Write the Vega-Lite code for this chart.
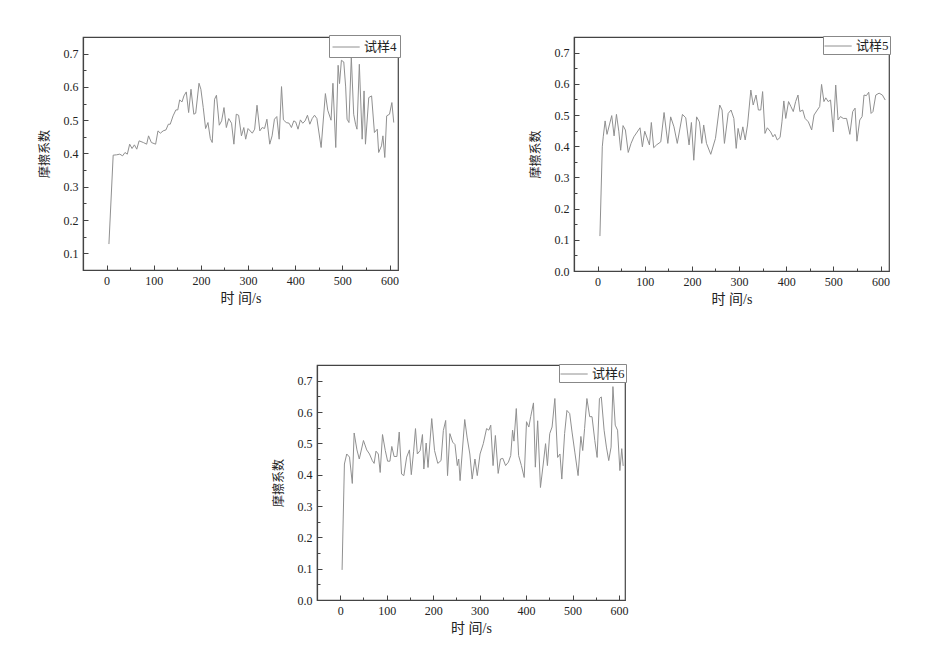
{
  "$schema": "https://vega.github.io/schema/vega-lite/v6.json",
  "background": "white",
  "padding": {"left": 37, "top": 33, "right": 5, "bottom": 5},
  "config": {
    "view": {"stroke": "#444", "strokeWidth": 1.2},
    "font": "Liberation Serif, Noto Sans CJK SC",
    "axis": {"grid": false, "domainColor": "#444", "domainWidth": 1.2, "tickColor": "#444", "labelFont": "Liberation Serif", "labelFontSize": 12, "labelColor": "#222", "titleFont": "Liberation Serif, Noto Sans CJK SC", "titleFontSize": 13, "titleFontWeight": "normal", "titleColor": "#222", "labelPadding": 10, "labelFlush": false, "labelOverlap": false},
    "axisX": {"titlePadding": 3, "titleFontSize": 14},
    "axisY": {"titlePadding": 12, "titleFontSize": 12},
    "legend": {"orient": "top-right", "offset": -2, "padding": 3, "strokeColor": "#888", "fillColor": "white", "symbolType": "M-1,0H2.2", "symbolSize": 289, "symbolStrokeWidth": 1, "labelOffset": 14, "labelFont": "Liberation Serif, Noto Sans CJK SC", "labelFontSize": 13, "labelColor": "#222"},
    "line": {"strokeWidth": 1}
  },
  "datasets": {
    "s4": [
      {"t":5,"v":0.128,"s":"试样4"},{"t":14,"v":0.395,"s":"试样4"},{"t":21,"v":0.396,"s":"试样4"},{"t":28,"v":0.398,"s":"试样4"},{"t":34,"v":0.393,"s":"试样4"},{"t":39,"v":0.403,"s":"试样4"},{"t":44,"v":0.398,"s":"试样4"},{"t":49,"v":0.428,"s":"试样4"},{"t":54,"v":0.415,"s":"试样4"},{"t":59,"v":0.426,"s":"试样4"},{"t":64,"v":0.413,"s":"试样4"},{"t":69,"v":0.438,"s":"试样4"},{"t":78,"v":0.433,"s":"试样4"},{"t":85,"v":0.428,"s":"试样4"},{"t":89,"v":0.453,"s":"试样4"},{"t":95,"v":0.433,"s":"试样4"},{"t":104,"v":0.428,"s":"试样4"},{"t":109,"v":0.468,"s":"试样4"},{"t":114,"v":0.461,"s":"试样4"},{"t":120,"v":0.468,"s":"试样4"},{"t":126,"v":0.471,"s":"试样4"},{"t":131,"v":0.488,"s":"试样4"},{"t":135,"v":0.488,"s":"试样4"},{"t":141,"v":0.513,"s":"试样4"},{"t":147,"v":0.531,"s":"试样4"},{"t":151,"v":0.531,"s":"试样4"},{"t":155,"v":0.561,"s":"试样4"},{"t":160,"v":0.555,"s":"试样4"},{"t":164,"v":0.573,"s":"试样4"},{"t":169,"v":0.585,"s":"试样4"},{"t":174,"v":0.523,"s":"试样4"},{"t":179,"v":0.593,"s":"试样4"},{"t":185,"v":0.518,"s":"试样4"},{"t":189,"v":0.521,"s":"试样4"},{"t":196,"v":0.611,"s":"试样4"},{"t":200,"v":0.593,"s":"试样4"},{"t":205,"v":0.538,"s":"试样4"},{"t":210,"v":0.475,"s":"试样4"},{"t":215,"v":0.493,"s":"试样4"},{"t":220,"v":0.445,"s":"试样4"},{"t":224,"v":0.433,"s":"试样4"},{"t":229,"v":0.563,"s":"试样4"},{"t":233,"v":0.575,"s":"试样4"},{"t":239,"v":0.485,"s":"试样4"},{"t":244,"v":0.498,"s":"试样4"},{"t":249,"v":0.538,"s":"试样4"},{"t":254,"v":0.478,"s":"试样4"},{"t":259,"v":0.505,"s":"试样4"},{"t":265,"v":0.491,"s":"试样4"},{"t":270,"v":0.428,"s":"试样4"},{"t":275,"v":0.518,"s":"试样4"},{"t":280,"v":0.515,"s":"试样4"},{"t":286,"v":0.453,"s":"试样4"},{"t":291,"v":0.478,"s":"试样4"},{"t":295,"v":0.443,"s":"试样4"},{"t":300,"v":0.475,"s":"试样4"},{"t":309,"v":0.461,"s":"试样4"},{"t":314,"v":0.473,"s":"试样4"},{"t":319,"v":0.545,"s":"试样4"},{"t":325,"v":0.468,"s":"试样4"},{"t":330,"v":0.478,"s":"试样4"},{"t":335,"v":0.475,"s":"试样4"},{"t":340,"v":0.503,"s":"试样4"},{"t":346,"v":0.428,"s":"试样4"},{"t":351,"v":0.453,"s":"试样4"},{"t":356,"v":0.503,"s":"试样4"},{"t":361,"v":0.511,"s":"试样4"},{"t":366,"v":0.443,"s":"试样4"},{"t":371,"v":0.601,"s":"试样4"},{"t":375,"v":0.501,"s":"试样4"},{"t":381,"v":0.493,"s":"试样4"},{"t":387,"v":0.491,"s":"试样4"},{"t":392,"v":0.478,"s":"试样4"},{"t":397,"v":0.498,"s":"试样4"},{"t":401,"v":0.495,"s":"试样4"},{"t":406,"v":0.473,"s":"试样4"},{"t":411,"v":0.501,"s":"试样4"},{"t":416,"v":0.491,"s":"试样4"},{"t":421,"v":0.498,"s":"试样4"},{"t":426,"v":0.515,"s":"试样4"},{"t":431,"v":0.488,"s":"试样4"},{"t":436,"v":0.505,"s":"试样4"},{"t":441,"v":0.515,"s":"试样4"},{"t":446,"v":0.505,"s":"试样4"},{"t":455,"v":0.418,"s":"试样4"},{"t":464,"v":0.58,"s":"试样4"},{"t":469,"v":0.53,"s":"试样4"},{"t":476,"v":0.5,"s":"试样4"},{"t":480,"v":0.611,"s":"试样4"},{"t":486,"v":0.418,"s":"试样4"},{"t":491,"v":0.665,"s":"试样4"},{"t":494,"v":0.61,"s":"试样4"},{"t":498,"v":0.68,"s":"试样4"},{"t":503,"v":0.675,"s":"试样4"},{"t":507,"v":0.6,"s":"试样4"},{"t":510,"v":0.503,"s":"试样4"},{"t":514,"v":0.493,"s":"试样4"},{"t":519,"v":0.69,"s":"试样4"},{"t":524,"v":0.518,"s":"试样4"},{"t":528,"v":0.488,"s":"试样4"},{"t":531,"v":0.473,"s":"试样4"},{"t":536,"v":0.668,"s":"试样4"},{"t":542,"v":0.443,"s":"试样4"},{"t":546,"v":0.588,"s":"试样4"},{"t":549,"v":0.428,"s":"试样4"},{"t":556,"v":0.568,"s":"试样4"},{"t":562,"v":0.573,"s":"试样4"},{"t":568,"v":0.463,"s":"试样4"},{"t":574,"v":0.473,"s":"试样4"},{"t":577,"v":0.403,"s":"试样4"},{"t":583,"v":0.423,"s":"试样4"},{"t":586,"v":0.453,"s":"试样4"},{"t":590,"v":0.388,"s":"试样4"},{"t":594,"v":0.513,"s":"试样4"},{"t":600,"v":0.518,"s":"试样4"},{"t":605,"v":0.553,"s":"试样4"},{"t":609,"v":0.493,"s":"试样4"}
    ],
    "s5": [
      {"t":5,"v":0.112,"s":"试样5"},{"t":10,"v":0.398,"s":"试样5"},{"t":12,"v":0.43,"s":"试样5"},{"t":16,"v":0.481,"s":"试样5"},{"t":20,"v":0.438,"s":"试样5"},{"t":25,"v":0.468,"s":"试样5"},{"t":30,"v":0.498,"s":"试样5"},{"t":35,"v":0.433,"s":"试样5"},{"t":40,"v":0.502,"s":"试样5"},{"t":45,"v":0.448,"s":"试样5"},{"t":49,"v":0.387,"s":"试样5"},{"t":54,"v":0.466,"s":"试样5"},{"t":59,"v":0.452,"s":"试样5"},{"t":65,"v":0.38,"s":"试样5"},{"t":71,"v":0.409,"s":"试样5"},{"t":77,"v":0.43,"s":"试样5"},{"t":90,"v":0.459,"s":"试样5"},{"t":95,"v":0.398,"s":"试样5"},{"t":100,"v":0.448,"s":"试样5"},{"t":110,"v":0.404,"s":"试样5"},{"t":114,"v":0.476,"s":"试样5"},{"t":119,"v":0.395,"s":"试样5"},{"t":125,"v":0.404,"s":"试样5"},{"t":134,"v":0.414,"s":"试样5"},{"t":141,"v":0.508,"s":"试样5"},{"t":149,"v":0.409,"s":"试样5"},{"t":155,"v":0.494,"s":"试样5"},{"t":162,"v":0.462,"s":"试样5"},{"t":169,"v":0.409,"s":"试样5"},{"t":180,"v":0.502,"s":"试样5"},{"t":187,"v":0.491,"s":"试样5"},{"t":194,"v":0.404,"s":"试样5"},{"t":199,"v":0.476,"s":"试样5"},{"t":204,"v":0.355,"s":"试样5"},{"t":210,"v":0.494,"s":"试样5"},{"t":216,"v":0.478,"s":"试样5"},{"t":221,"v":0.409,"s":"试样5"},{"t":225,"v":0.468,"s":"试样5"},{"t":231,"v":0.409,"s":"试样5"},{"t":240,"v":0.374,"s":"试样5"},{"t":250,"v":0.425,"s":"试样5"},{"t":259,"v":0.532,"s":"试样5"},{"t":264,"v":0.516,"s":"试样5"},{"t":269,"v":0.409,"s":"试样5"},{"t":277,"v":0.505,"s":"试样5"},{"t":283,"v":0.516,"s":"试样5"},{"t":289,"v":0.489,"s":"试样5"},{"t":294,"v":0.393,"s":"试样5"},{"t":298,"v":0.457,"s":"试样5"},{"t":303,"v":0.42,"s":"试样5"},{"t":308,"v":0.462,"s":"试样5"},{"t":313,"v":0.42,"s":"试样5"},{"t":318,"v":0.468,"s":"试样5"},{"t":325,"v":0.58,"s":"试样5"},{"t":330,"v":0.532,"s":"试样5"},{"t":336,"v":0.564,"s":"试样5"},{"t":341,"v":0.516,"s":"试样5"},{"t":346,"v":0.516,"s":"试样5"},{"t":350,"v":0.575,"s":"试样5"},{"t":355,"v":0.441,"s":"试样5"},{"t":360,"v":0.459,"s":"试样5"},{"t":367,"v":0.446,"s":"试样5"},{"t":372,"v":0.43,"s":"试样5"},{"t":376,"v":0.438,"s":"试样5"},{"t":381,"v":0.42,"s":"试样5"},{"t":387,"v":0.428,"s":"试样5"},{"t":391,"v":0.478,"s":"试样5"},{"t":395,"v":0.545,"s":"试样5"},{"t":399,"v":0.489,"s":"试样5"},{"t":405,"v":0.543,"s":"试样5"},{"t":410,"v":0.527,"s":"试样5"},{"t":415,"v":0.511,"s":"试样5"},{"t":420,"v":0.543,"s":"试样5"},{"t":425,"v":0.564,"s":"试样5"},{"t":429,"v":0.511,"s":"试样5"},{"t":435,"v":0.516,"s":"试样5"},{"t":440,"v":0.489,"s":"试样5"},{"t":447,"v":0.478,"s":"试样5"},{"t":454,"v":0.452,"s":"试样5"},{"t":459,"v":0.5,"s":"试样5"},{"t":466,"v":0.516,"s":"试样5"},{"t":471,"v":0.527,"s":"试样5"},{"t":475,"v":0.598,"s":"试样5"},{"t":480,"v":0.543,"s":"试样5"},{"t":484,"v":0.555,"s":"试样5"},{"t":489,"v":0.543,"s":"试样5"},{"t":494,"v":0.548,"s":"试样5"},{"t":500,"v":0.446,"s":"试样5"},{"t":505,"v":0.596,"s":"试样5"},{"t":510,"v":0.484,"s":"试样5"},{"t":515,"v":0.495,"s":"试样5"},{"t":521,"v":0.489,"s":"试样5"},{"t":528,"v":0.489,"s":"试样5"},{"t":535,"v":0.438,"s":"试样5"},{"t":541,"v":0.511,"s":"试样5"},{"t":546,"v":0.522,"s":"试样5"},{"t":550,"v":0.416,"s":"试样5"},{"t":556,"v":0.484,"s":"试样5"},{"t":561,"v":0.495,"s":"试样5"},{"t":565,"v":0.564,"s":"试样5"},{"t":570,"v":0.562,"s":"试样5"},{"t":575,"v":0.573,"s":"试样5"},{"t":580,"v":0.505,"s":"试样5"},{"t":584,"v":0.511,"s":"试样5"},{"t":590,"v":0.564,"s":"试样5"},{"t":597,"v":0.57,"s":"试样5"},{"t":604,"v":0.564,"s":"试样5"},{"t":610,"v":0.548,"s":"试样5"}
    ],
    "s6": [
      {"t":4,"v":0.096,"s":"试样6"},{"t":9,"v":0.434,"s":"试样6"},{"t":14,"v":0.466,"s":"试样6"},{"t":20,"v":0.456,"s":"试样6"},{"t":26,"v":0.372,"s":"试样6"},{"t":30,"v":0.533,"s":"试样6"},{"t":36,"v":0.479,"s":"试样6"},{"t":41,"v":0.45,"s":"试样6"},{"t":50,"v":0.509,"s":"试样6"},{"t":57,"v":0.479,"s":"试样6"},{"t":63,"v":0.466,"s":"试样6"},{"t":69,"v":0.445,"s":"试样6"},{"t":73,"v":0.436,"s":"试样6"},{"t":77,"v":0.475,"s":"试样6"},{"t":82,"v":0.466,"s":"试样6"},{"t":86,"v":0.407,"s":"试样6"},{"t":91,"v":0.528,"s":"试样6"},{"t":97,"v":0.477,"s":"试样6"},{"t":102,"v":0.443,"s":"试样6"},{"t":107,"v":0.443,"s":"试样6"},{"t":111,"v":0.49,"s":"试样6"},{"t":116,"v":0.458,"s":"试样6"},{"t":122,"v":0.458,"s":"试样6"},{"t":127,"v":0.536,"s":"试样6"},{"t":132,"v":0.402,"s":"试样6"},{"t":137,"v":0.397,"s":"试样6"},{"t":143,"v":0.456,"s":"试样6"},{"t":149,"v":0.479,"s":"试样6"},{"t":153,"v":0.4,"s":"试样6"},{"t":158,"v":0.475,"s":"试样6"},{"t":162,"v":0.547,"s":"试样6"},{"t":166,"v":0.466,"s":"试样6"},{"t":172,"v":0.477,"s":"试样6"},{"t":177,"v":0.528,"s":"试样6"},{"t":180,"v":0.418,"s":"试样6"},{"t":185,"v":0.501,"s":"试样6"},{"t":189,"v":0.423,"s":"试样6"},{"t":197,"v":0.579,"s":"试样6"},{"t":203,"v":0.477,"s":"试样6"},{"t":210,"v":0.436,"s":"试样6"},{"t":217,"v":0.445,"s":"试样6"},{"t":222,"v":0.541,"s":"试样6"},{"t":227,"v":0.573,"s":"试样6"},{"t":231,"v":0.397,"s":"试样6"},{"t":236,"v":0.531,"s":"试样6"},{"t":242,"v":0.504,"s":"试样6"},{"t":247,"v":0.496,"s":"试样6"},{"t":252,"v":0.429,"s":"试样6"},{"t":255,"v":0.45,"s":"试样6"},{"t":258,"v":0.381,"s":"试样6"},{"t":268,"v":0.576,"s":"试样6"},{"t":273,"v":0.52,"s":"试样6"},{"t":279,"v":0.466,"s":"试样6"},{"t":284,"v":0.386,"s":"试样6"},{"t":290,"v":0.45,"s":"试样6"},{"t":295,"v":0.397,"s":"试样6"},{"t":301,"v":0.466,"s":"试样6"},{"t":308,"v":0.499,"s":"试样6"},{"t":315,"v":0.547,"s":"试样6"},{"t":320,"v":0.542,"s":"试样6"},{"t":324,"v":0.558,"s":"试样6"},{"t":329,"v":0.429,"s":"试样6"},{"t":334,"v":0.525,"s":"试样6"},{"t":340,"v":0.404,"s":"试样6"},{"t":345,"v":0.45,"s":"试样6"},{"t":350,"v":0.452,"s":"试样6"},{"t":356,"v":0.429,"s":"试样6"},{"t":362,"v":0.44,"s":"试样6"},{"t":367,"v":0.461,"s":"试样6"},{"t":371,"v":0.542,"s":"试样6"},{"t":374,"v":0.507,"s":"试样6"},{"t":379,"v":0.611,"s":"试样6"},{"t":384,"v":0.461,"s":"试样6"},{"t":390,"v":0.429,"s":"试样6"},{"t":396,"v":0.391,"s":"试样6"},{"t":401,"v":0.569,"s":"试样6"},{"t":406,"v":0.552,"s":"试样6"},{"t":410,"v":0.585,"s":"试样6"},{"t":416,"v":0.629,"s":"试样6"},{"t":420,"v":0.424,"s":"试样6"},{"t":425,"v":0.572,"s":"试样6"},{"t":431,"v":0.359,"s":"试样6"},{"t":437,"v":0.434,"s":"试样6"},{"t":442,"v":0.499,"s":"试样6"},{"t":446,"v":0.429,"s":"试样6"},{"t":451,"v":0.531,"s":"试样6"},{"t":456,"v":0.552,"s":"试样6"},{"t":462,"v":0.643,"s":"试样6"},{"t":468,"v":0.455,"s":"试样6"},{"t":473,"v":0.466,"s":"试样6"},{"t":477,"v":0.386,"s":"试样6"},{"t":483,"v":0.531,"s":"试样6"},{"t":488,"v":0.605,"s":"试样6"},{"t":494,"v":0.595,"s":"试样6"},{"t":499,"v":0.536,"s":"试样6"},{"t":505,"v":0.472,"s":"试样6"},{"t":512,"v":0.397,"s":"试样6"},{"t":518,"v":0.522,"s":"试样6"},{"t":522,"v":0.477,"s":"试样6"},{"t":526,"v":0.547,"s":"试样6"},{"t":531,"v":0.643,"s":"试样6"},{"t":537,"v":0.585,"s":"试样6"},{"t":542,"v":0.585,"s":"试样6"},{"t":548,"v":0.509,"s":"试样6"},{"t":553,"v":0.455,"s":"试样6"},{"t":558,"v":0.643,"s":"试样6"},{"t":562,"v":0.648,"s":"试样6"},{"t":568,"v":0.542,"s":"试样6"},{"t":573,"v":0.488,"s":"试样6"},{"t":578,"v":0.445,"s":"试样6"},{"t":583,"v":0.488,"s":"试样6"},{"t":587,"v":0.681,"s":"试样6"},{"t":592,"v":0.558,"s":"试样6"},{"t":597,"v":0.542,"s":"试样6"},{"t":602,"v":0.413,"s":"试样6"},{"t":606,"v":0.483,"s":"试样6"},{"t":609,"v":0.428,"s":"试样6"}
    ]
  },
  "spacing": 55,
  "resolve": {"scale": {"color": "independent"}, "legend": {"color": "independent"}},
  "vconcat": [
    {
      "spacing": 126,
      "resolve": {"scale": {"color": "independent"}, "legend": {"color": "independent"}},
      "hconcat": [
        {
          "width": 315, "height": 233,
          "data": {"name": "s4"},
          "mark": {"type": "line", "color": "#909090"},
          "encoding": {
            "x": {"field": "t", "type": "quantitative", "scale": {"domain": [-50, 618], "nice": false, "zero": false},
                  "axis": {"title": "时 间/s", "values": [0,50,100,150,200,250,300,350,400,450,500,550,600],
                           "labelExpr": "datum.value % 100 === 0 ? datum.label : ''",
                           "tickSize": {"condition": {"test": "datum.value % 100 === 0", "value": -5}, "value": -3}}},
            "y": {"field": "v", "type": "quantitative", "scale": {"domain": [0.05, 0.75], "nice": false, "zero": false},
                  "axis": {"title": "摩擦系数", "values": [0.1,0.15,0.2,0.25,0.3,0.35,0.4,0.45,0.5,0.55,0.6,0.65,0.7],
                           "labelExpr": "abs(datum.value*10 - round(datum.value*10)) < 0.01 ? format(datum.value, '.1f') : ''",
                           "tickSize": {"condition": {"test": "abs(datum.value*10 - round(datum.value*10)) < 0.01", "value": -5}, "value": -3}}},
            "color": {"field": "s", "type": "nominal", "scale": {"range": ["#909090"]}, "legend": {"title": null}}
          }
        },
        {
          "width": 315, "height": 234,
          "data": {"name": "s5"},
          "mark": {"type": "line", "color": "#909090"},
          "encoding": {
            "x": {"field": "t", "type": "quantitative", "scale": {"domain": [-50, 618], "nice": false, "zero": false},
                  "axis": {"title": "时 间/s", "values": [0,50,100,150,200,250,300,350,400,450,500,550,600],
                           "labelExpr": "datum.value % 100 === 0 ? datum.label : ''",
                           "tickSize": {"condition": {"test": "datum.value % 100 === 0", "value": -5}, "value": -3}}},
            "y": {"field": "v", "type": "quantitative", "scale": {"domain": [0, 0.75], "nice": false, "zero": false},
                  "axis": {"title": "摩擦系数", "values": [0,0.05,0.1,0.15,0.2,0.25,0.3,0.35,0.4,0.45,0.5,0.55,0.6,0.65,0.7],
                           "labelExpr": "abs(datum.value*10 - round(datum.value*10)) < 0.01 ? format(datum.value, '.1f') : ''",
                           "tickSize": {"condition": {"test": "abs(datum.value*10 - round(datum.value*10)) < 0.01", "value": -5}, "value": -3}}},
            "color": {"field": "s", "type": "nominal", "scale": {"range": ["#909090"]}, "legend": {"title": null, "padding": 1, "offset": -1}}
          }
        }
      ]
    },
    {
      "spacing": 0,
      "resolve": {"scale": {"color": "independent"}, "legend": {"color": "independent"}},
      "hconcat": [
        {
          "width": 188, "height": 10,
          "data": {"values": []},
          "mark": {"type": "point"},
          "encoding": {},
          "view": {"stroke": null}
        },
        {
          "width": 308, "height": 235,
          "data": {"name": "s6"},
          "mark": {"type": "line", "color": "#909090"},
          "encoding": {
            "x": {"field": "t", "type": "quantitative", "scale": {"domain": [-50, 613], "nice": false, "zero": false},
                  "axis": {"title": "时 间/s", "values": [0,50,100,150,200,250,300,350,400,450,500,550,600],
                           "labelExpr": "datum.value % 100 === 0 ? datum.label : ''",
                           "tickSize": {"condition": {"test": "datum.value % 100 === 0", "value": -5}, "value": -3}}},
            "y": {"field": "v", "type": "quantitative", "scale": {"domain": [0, 0.75], "nice": false, "zero": false},
                  "axis": {"title": "摩擦系数", "values": [0,0.05,0.1,0.15,0.2,0.25,0.3,0.35,0.4,0.45,0.5,0.55,0.6,0.65,0.7],
                           "labelExpr": "abs(datum.value*10 - round(datum.value*10)) < 0.01 ? format(datum.value, '.1f') : ''",
                           "tickSize": {"condition": {"test": "abs(datum.value*10 - round(datum.value*10)) < 0.01", "value": -5}, "value": -3}}},
            "color": {"field": "s", "type": "nominal", "scale": {"range": ["#909090"]}, "legend": {"title": null, "padding": 1, "offset": -1}}
          }
        }
      ]
    }
  ]
}
